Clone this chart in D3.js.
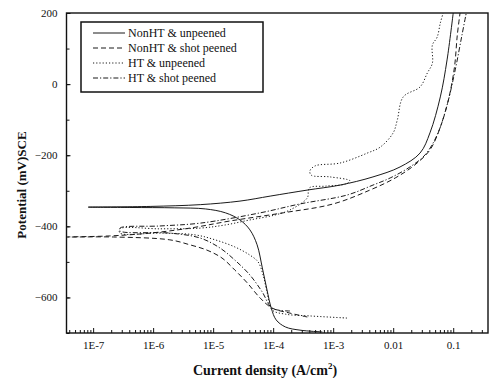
<!DOCTYPE html>
<html>
<head>
<meta charset="utf-8">
<script src="https://cdn.jsdelivr.net/npm/d3@7"></script>
<style>
  html, body { margin: 0; padding: 0; background: #fff; }
  svg { display: block; }
  text { font-family: "Liberation Serif", "Times New Roman", serif; fill: #111; }
</style>
</head>
<body>
<svg id="chart" width="490" height="378"></svg>
<script>
// Potentiodynamic polarization scans: [current density (A/cm2), potential (mV vs SCE)]
// Each scan runs from the cathodic tail, through Ecorr, up the anodic branch.
const nonHTUnpeened = [
  [6.6e-4, -697], [2.8e-4, -692], [1.6e-4, -683], [1.12e-4, -663], [9.3e-5, -630],
  [7.9e-5, -579], [6.6e-5, -517], [5.4e-5, -452], [4.1e-5, -410], [2.8e-5, -382],
  [1.6e-5, -362], [7.4e-6, -351], [2.3e-6, -348], [4.1e-7, -347], [8.3e-8, -346],
  [8.9e-7, -344], [6.1e-6, -339], [2.8e-5, -329], [8.9e-5, -315], [3.7e-4, -298],
  [1.3e-3, -284], [4.6e-3, -261], [0.013, -233], [0.028, -194], [0.041, -137],
  [0.061, -36], [0.079, 68], [0.10, 200]
];
const nonHTShotPeened = [
  [3.7e-4, -655], [1.9e-4, -644], [9.6e-5, -630], [6.1e-5, -602], [3.7e-5, -559],
  [2.3e-5, -523], [1.4e-5, -489], [7.9e-6, -467], [4.1e-6, -452], [1.9e-6, -438],
  [2.2e-7, -430], [3.7e-8, -430],
  [1.9e-7, -427], [8.9e-7, -419], [4.1e-6, -405], [1.9e-5, -385], [1.47e-4, -362],
  [1.0e-3, -337], [4.1e-3, -298], [0.0108, -264], [0.023, -227], [0.041, -185],
  [0.061, -121], [0.083, -45], [0.105, 48], [0.117, 138], [0.13, 200]
];
const htUnpeened = [
  [1.7e-3, -658], [4.1e-4, -652], [1.6e-4, -647], [9.6e-5, -635], [7.9e-5, -585],
  [6.8e-5, -537], [5.6e-5, -500], [4.1e-5, -481], [2.3e-5, -458], [1.08e-5, -438],
  [5.0e-6, -424], [1.3e-6, -419], [2.8e-7, -419],
  [2.8e-7, -407], [1.3e-6, -407], [6.1e-6, -405], [1.6e-5, -396], [4.1e-5, -382],
  [1.08e-4, -368], [1.9e-4, -354], [3.7e-4, -320], [4.0e-4, -292], [7.4e-4, -287],
  [1.6e-3, -281], [1.9e-3, -272], [8.9e-4, -261], [4.3e-4, -256], [4.1e-4, -244],
  [5.0e-4, -230], [1.3e-3, -222], [3.7e-3, -194], [6.1e-3, -177], [0.010, -137],
  [0.0117, -101], [0.0147, -36], [0.028, -8], [0.037, 31], [0.045, 59],
  [0.045, 110], [0.054, 132], [0.061, 172], [0.068, 200]
];
const htShotPeened = [
  [1.9e-4, -638], [9.6e-5, -630], [6.6e-5, -585], [4.1e-5, -537], [2.3e-5, -495],
  [1.3e-5, -461], [6.1e-6, -433], [1.9e-6, -419], [2.8e-7, -413],
  [2.8e-7, -405], [1.3e-6, -399], [6.1e-6, -391], [6.1e-5, -362], [2.8e-4, -337],
  [1.7e-3, -312], [4.6e-3, -284], [8.9e-3, -264], [0.019, -233], [0.034, -199],
  [0.054, -143], [0.079, -59], [0.108, 40], [0.14, 138], [0.165, 200]
];

const seriesNames = ["NonHT & unpeened", "NonHT & shot peened", "HT & unpeened", "HT & shot peened"];
const seriesData = [nonHTUnpeened, nonHTShotPeened, htUnpeened, htShotPeened];
const seriesDash = ["none", "5,3", "1.2,2", "5,2,1.2,2"];

const xTickValues = [1e-7, 1e-6, 1e-5, 1e-4, 1e-3, 0.01, 0.1];
const xTickLabels = ["1E-7", "1E-6", "1E-5", "1E-4", "1E-3", "0.01", "0.1"];
const yTickValues = [-600, -400, -200, 0, 200];

const svg = d3.select("#chart");
const plotLeft = 66.5, plotRight = 488, plotTop = 13, plotBottom = 333;

const x = d3.scaleLog().domain([3.6e-8, 0.38]).range([plotLeft, plotRight]);
const y = d3.scaleLinear().domain([-700, 200]).range([plotBottom, plotTop]);

// curves
const line = d3.line()
  .x(d => x(d[0]))
  .y(d => y(d[1]))
  .curve(d3.curveCatmullRom.alpha(0.5));

const plot = svg.append("g");
plot.append("defs").append("clipPath").attr("id", "clip")
  .append("rect").attr("x", plotLeft).attr("y", plotTop)
  .attr("width", plotRight - plotLeft).attr("height", plotBottom - plotTop);

seriesData.forEach((s, i) => {
  plot.append("path")
    .attr("clip-path", "url(#clip)")
    .attr("d", line(s))
    .attr("fill", "none")
    .attr("stroke", "#1a1a1a")
    .attr("stroke-width", 1)
    .attr("stroke-dasharray", seriesDash[i]);
});

// axes: inward ticks
const minorX = [];
for (let e = -8; e <= -1; e++) {
  for (let m = 2; m <= 9; m++) {
    const v = m * Math.pow(10, e);
    if (v > x.domain()[0] && v < x.domain()[1]) minorX.push(v);
  }
}
const xAxisMinor = d3.axisBottom(x).tickValues(minorX).tickSize(-3).tickFormat("");
const xAxisMajor = d3.axisBottom(x).tickValues(xTickValues).tickSize(-5)
  .tickFormat((d, i) => xTickLabels[i]).tickPadding(8);

const gxMinor = svg.append("g").attr("transform", `translate(0,${plotBottom})`).call(xAxisMinor);
const gx = svg.append("g").attr("transform", `translate(0,${plotBottom})`).call(xAxisMajor);
[gxMinor, gx].forEach(g => {
  g.select(".domain").remove();
  g.selectAll(".tick line").attr("stroke", "#111").attr("stroke-width", 1);
});
gx.selectAll(".tick text")
  .attr("font-family", "Liberation Serif, serif")
  .attr("font-size", 11).attr("fill", "#111");

const yAxisMinor = d3.axisLeft(y).tickValues(d3.range(-700, 201, 100)).tickSize(-3).tickFormat("");
const yAxisMajor = d3.axisLeft(y).tickValues(yTickValues).tickSize(-4).tickPadding(9);
const gyMinor = svg.append("g").attr("transform", `translate(${plotLeft},0)`).call(yAxisMinor);
const gy = svg.append("g").attr("transform", `translate(${plotLeft},0)`).call(yAxisMajor);
[gyMinor, gy].forEach(g => {
  g.select(".domain").remove();
  g.selectAll(".tick line").attr("stroke", "#111").attr("stroke-width", 1);
});
gy.selectAll(".tick text")
  .attr("font-family", "Liberation Serif, serif")
  .attr("font-size", 11).attr("fill", "#111");

// frame
svg.append("rect")
  .attr("x", plotLeft).attr("y", plotTop)
  .attr("width", plotRight - plotLeft).attr("height", plotBottom - plotTop)
  .attr("fill", "none").attr("stroke", "#111").attr("stroke-width", 1.4);

// axis titles
svg.append("text")
  .attr("transform", "translate(26,185) rotate(-90)")
  .attr("text-anchor", "middle")
  .attr("font-size", 13).attr("font-weight", "bold")
  .text("Potential (mV)SCE");

const xt = svg.append("text")
  .attr("x", 265).attr("y", 375)
  .attr("text-anchor", "middle")
  .attr("font-size", 14).attr("font-weight", "bold");
xt.append("tspan").text("Current density (A/cm");
xt.append("tspan").attr("font-size", 9).attr("dy", -6).text("2");
xt.append("tspan").attr("dy", 6).text(")");

// legend
const lg = svg.append("g");
lg.append("rect")
  .attr("x", 81).attr("y", 22).attr("width", 182).attr("height", 70)
  .attr("fill", "#fff").attr("stroke", "#111").attr("stroke-width", 1.5);
seriesNames.forEach((name, i) => {
  const yy = 33 + i * 15;
  lg.append("line")
    .attr("x1", 93).attr("x2", 125).attr("y1", yy).attr("y2", yy)
    .attr("stroke", "#1a1a1a").attr("stroke-width", 1)
    .attr("stroke-dasharray", seriesDash[i]);
  lg.append("text")
    .attr("x", 128).attr("y", yy + 4)
    .attr("font-size", 12)
    .text(name);
});
</script>
</body>
</html>
